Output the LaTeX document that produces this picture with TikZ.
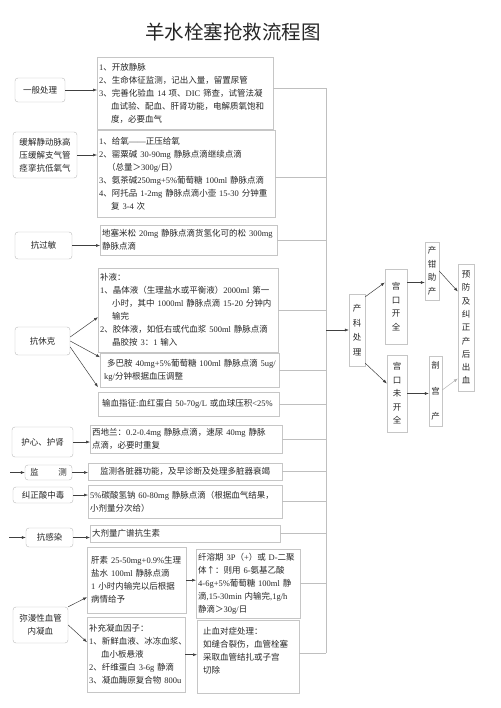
\documentclass[tikz,border=0pt]{standalone}
\usepackage{fontspec}
\setmainfont{Noto Sans CJK SC}
\newfontfamily\cjkfont{Noto Sans CJK SC}
\newfontfamily\latfont{Liberation Serif}
\usetikzlibrary{arrows.meta}

% CJK text in Noto Sans CJK, Latin text in Liberation Serif
\XeTeXinterchartokenstate=1
\newXeTeXintercharclass\cjkcls
\newcount\cjkcnt
\cjkcnt="2190 \loop\ifnum\cjkcnt<"2200 \XeTeXcharclass\cjkcnt=\cjkcls \advance\cjkcnt 1 \repeat
\cjkcnt="3000 \loop\ifnum\cjkcnt<"3040 \XeTeXcharclass\cjkcnt=\cjkcls \advance\cjkcnt 1 \repeat
\cjkcnt="4E00 \loop\ifnum\cjkcnt<"A000 \XeTeXcharclass\cjkcnt=\cjkcls \advance\cjkcnt 1 \repeat
\cjkcnt="FF00 \loop\ifnum\cjkcnt<"FFF0 \XeTeXcharclass\cjkcnt=\cjkcls \advance\cjkcnt 1 \repeat
\XeTeXinterchartoks 0 \cjkcls = {\cjkfont}
\XeTeXinterchartoks 4095 \cjkcls = {\cjkfont}
\XeTeXinterchartoks \cjkcls 0 = {\latfont}
\XeTeXinterchartoks 4095 0 = {\latfont}
\exhyphenpenalty=10000
\hyphenpenalty=10000

\tikzset{
  every node/.style={font=\fontsize{8.5}{13}\selectfont, text=black!85},
  sidebox/.style={draw=gray!55, rounded corners=3pt, align=center, inner sep=1pt},
  stepbox/.style={draw=gray!45, anchor=north west, align=left, inner sep=2pt},
  vbox/.style={draw=gray!45, align=center, inner sep=0pt, font=\fontsize{8.5}{13.5}\selectfont},
  link/.style={draw=gray!50, line width=0.5pt},
  arrow/.style={-{Latex[length=4pt,width=3pt]}, draw=black!75, line width=0.5pt},
}

\begin{document}
\begin{tikzpicture}[x=1pt, y=-1pt]
\useasboundingbox (0,0) rectangle (500,708);

% Title
\node (title) at (233,32) {\fontsize{19.5}{20}\selectfont 羊水栓塞抢救流程图};

% Left column
\node[sidebox, minimum width=50pt, minimum height=24pt] (general) at (40,90) {一般处理};
\node[sidebox, minimum width=64pt, minimum height=46pt] (relief) at (45,155) {缓解静动脉高\\压缓解支气管\\痉挛抗低氧气};
\node[sidebox, minimum width=57pt, minimum height=27pt] (allergy) at (43.5,245.5) {抗过敏};
\node[sidebox, minimum width=55pt, minimum height=28pt] (shock) at (42.5,341) {抗休克};
\node[sidebox, minimum width=61pt, minimum height=30pt] (heart) at (42.5,442) {护心、护肾};
\node[sidebox, minimum width=47pt, minimum height=15pt] (monitor) at (48.5,472.5) {监\hspace{2.3em}测};
\node[sidebox, minimum width=60pt, minimum height=16pt] (acid) at (43,495) {纠正酸中毒};
\node[sidebox, minimum width=47pt, minimum height=19pt] (infect) at (49.5,537.5) {抗感染};
\node[sidebox, minimum width=55pt, minimum height=36pt] (dic) at (40.5,625) {弥漫性血管\\内凝血};

% Measures
\node[stepbox, text width=172pt, minimum height=72pt] (s1) at (97,57) {1、开放静脉\\
2、生命体征监测，记出入量，留置尿管\\
3、完善化验血~14~项、DIC~筛查，试管法凝\\
\hspace*{12pt}血试验、配血、肝肾功能，电解质氧饱和\\
\hspace*{12pt}度，必要血气};
\node[stepbox, text width=174pt, minimum height=87pt] (s2) at (97,130) {1、给氧——正压给氧\\
2、罂粟碱~30-90mg~静脉点滴继续点滴\\
\hspace*{8pt}（总量＞300g/日）\\
3、氨茶碱250mg+5\%葡萄糖~100ml~静脉点滴\\
4、阿托品~1-2mg~静脉点滴小壶~15-30~分钟重\\
\hspace*{12pt}复~3-4~次};
\node[stepbox, text width=173pt, minimum height=30pt] (s3) at (100,225) {地塞米松~20mg~静脉点滴货氢化可的松~300mg\\
静脉点滴};
\node[stepbox, text width=176pt, minimum height=84pt] (s4) at (98,268) {补液：\\
1、晶体液（生理盐水或平衡液）2000ml~第一\\
\hspace*{12pt}小时，其中~1000ml~静脉点滴~15-20~分钟内\\
\hspace*{12pt}输完\\
2、胶体液，如低右或代血浆~500ml~静脉点滴\\
\hspace*{12pt}晶胶按~3：1~输入};
\node[stepbox, text width=171pt, inner xsep=4pt, minimum height=34pt] (s5) at (100,353) {\hspace*{3pt}多巴胺~40mg+5\%葡萄糖~100ml~静脉点滴~5ug/\\
kg/分钟根据血压调整};
\node[stepbox, text width=173pt, inner xsep=4pt, minimum height=24pt] (s6) at (98,392) {输血指征:血红蛋白~50-70g/L~或血球压积<25\%};
\node[stepbox, text width=188pt, minimum height=28pt] (s7) at (90,425) {西地兰：0.2-0.4mg~静脉点滴，速尿~40mg~静脉\\
点滴，必要时重复};
\node[stepbox, text width=190pt, minimum height=17pt] (s8) at (88,463) {\hspace*{10pt}监测各脏器功能，及早诊断及处理多脏器衰竭};
\node[stepbox, text width=190pt, minimum height=33pt] (s9) at (88,485) {5\%碳酸氢钠~60-80mg~静脉点滴（根据血气结果，\\
小剂量分次给）};
\node[stepbox, text width=186pt, minimum height=17pt] (s10) at (90,525) {大剂量广谱抗生素};
\node[stepbox, text width=91pt, inner xsep=4pt, minimum height=66pt] (s11) at (87,547) {肝素~25-50mg+0.9\%生理\\
盐水~100ml~静脉点滴\\
1~小时内输完以后根据\\
病情给予};
\node[stepbox, text width=94pt, minimum height=75pt] (s12) at (87,617) {补充凝血因子：\\
1、新鲜血液、冰冻血浆、\\
\hspace*{12pt}血小板悬液\\
2、纤维蛋白~3-6g~静滴\\
3、凝血酶原复合物~800u};
\node[stepbox, text width=100pt, minimum height=69pt] (s13) at (196,549) {纤溶期~3P（+）或~D-二聚\\
体↑：则用~6-氨基乙酸\\
4-6g+5\%葡萄糖~100ml~静\\
滴,15-30min~内输完,1g/h\\
静滴＞30g/日};
\node[stepbox, text width=90pt, inner xsep=6pt, minimum height=73pt] (s14) at (197,620) {止血对症处理：\\
如缝合裂伤，血管栓塞\\
采取血管结扎或子宫\\
切除\\\mbox{}};

% Obstetric branch
\node[vbox, minimum width=16pt, minimum height=72pt, font=\fontsize{8.5}{14.5}\selectfont] (ob) at (357,330) {产\\科\\处\\理};
\node[vbox, minimum width=22pt, minimum height=75pt] (full) at (396,306.5) {宫\\口\\开\\全};
\node[vbox, minimum width=20pt, minimum height=77pt] (notfull) at (397,393.5) {宫\\口\\未\\开\\全};
\node[vbox, minimum width=14pt, minimum height=58pt] (forceps) at (432,271) {产\\钳\\助\\产};
\node[vbox, minimum width=13pt, minimum height=70pt] (cesar) at (435.5,391) {剖\\[12pt]宫\\[12pt]产};
\node[vbox, minimum width=16pt, minimum height=127pt, font=\fontsize{8.5}{13.3}\selectfont] (pph) at (466,327.5) {预\\防\\及\\纠\\正\\产\\后\\出\\血};

% Arrows to the measures
\draw[arrow] (general.east) -- (general.east -| s1.west);
\draw[arrow] (relief.east) -- (relief.east -| s2.west);
\draw[arrow] (allergy.east) -- (allergy.east -| s3.west);
\draw[arrow] ([yshift=4pt]shock.east) -- ([yshift=-7pt]s4.west);
\draw[arrow] (shock.east) -- ([yshift=13pt]s5.west);
\draw[arrow] ([yshift=-6pt]shock.east) -- ([yshift=17pt]s6.west);
\draw[arrow] (heart.east) -- (heart.east -| s7.west);
\coordinate (monin) at (10,472.5);
\draw[arrow] (monin) -- (monitor.west);
\draw[arrow] (monitor.east) -- (monitor.east -| s8.west);
\draw[arrow] (acid.east) -- (acid.east -| s9.west);
\coordinate (infin) at (9,537.5);
\draw[arrow] (infin) -- (infect.west);
\draw[arrow] (infect.east) -- (infect.east -| s10.west);
\draw[arrow] (dic.north east) -- ([yshift=-17pt]s11.west);
\draw[arrow] (dic.east) -- ([yshift=12.5pt]s12.west);
\draw[arrow] (s11.east) -- (s11.east -| s13.west);
\draw[arrow] (s12.east) -- (s12.east -| s14.west);

% Collecting line
\coordinate (bus) at (326,0);
\draw[link] ([yshift=5pt]s1.east -| bus) -- ([yshift=3.5pt]s14.east -| bus);
\draw[link] ([yshift=5pt]s1.east) -- ([yshift=5pt]s1.east -| bus);
\draw[link] ([yshift=-3.5pt]s2.east) -- ([yshift=-3.5pt]s2.east -| bus);
\foreach \n in {s3,s4,s5,s6,s7,s8,s9,s10,s13}
  \draw[link] (\n.east) -- (\n.east -| bus);
\draw[link] ([yshift=3.5pt]s14.east) -- ([yshift=3.5pt]s14.east -| bus);

% Obstetric arrows
\draw[arrow] (bus |- ob.west) -- (ob.west);
\draw[arrow] ([yshift=-3pt]ob.north east) -- ([yshift=24pt]full.west);
\draw[arrow] ([yshift=3pt]ob.south east) -- ([yshift=10pt]notfull.west);
\draw[arrow] ([yshift=24pt]full.east) -- ([yshift=24pt]full.east -| forceps.west);
\draw[arrow] (notfull.east) -- (notfull.east -| cesar.west);
\draw[arrow] (forceps.east) -- ([yshift=36pt]pph.west);
\draw[arrow, draw=gray!60] ([yshift=1pt]cesar.east) -- ([yshift=-51pt]pph.west);
\end{tikzpicture}
\end{document}
